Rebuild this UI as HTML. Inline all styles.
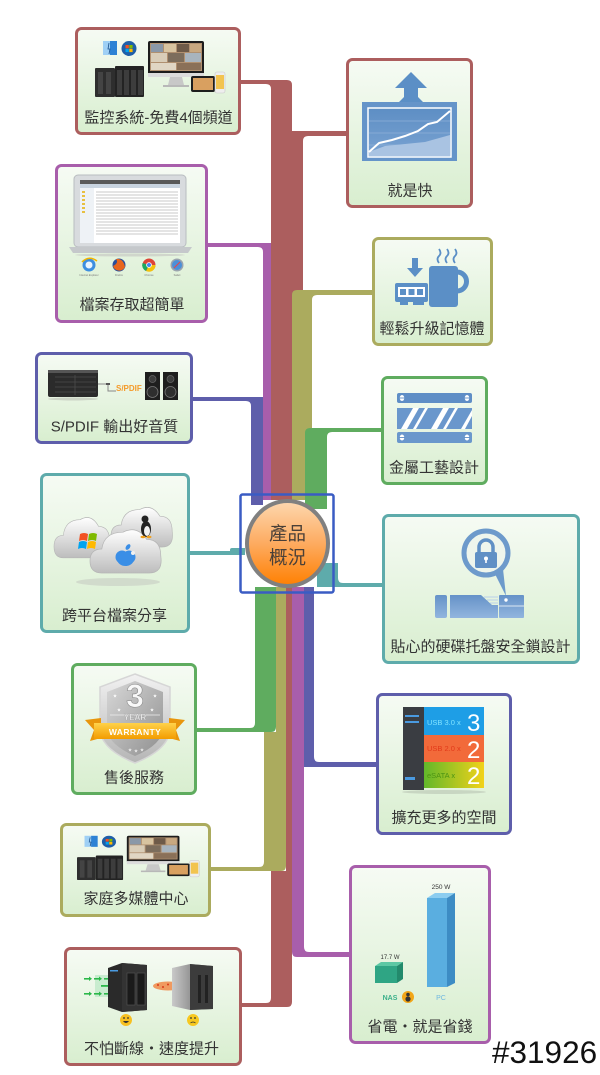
<!DOCTYPE html>
<html><head><meta charset="utf-8">
<style>
html,body{margin:0;padding:0;background:#fff;}
svg{display:block;}
text{font-family:"Liberation Sans","Noto Sans CJK TC",sans-serif;}
</style></head>
<body>
<svg width="600" height="1075" viewBox="0 0 600 1075" xmlns="http://www.w3.org/2000/svg">
<defs>
  <linearGradient id="bx" x1="0" y1="0" x2="0" y2="1">
    <stop offset="0" stop-color="#f6fbf4"/><stop offset="1" stop-color="#d8eecf"/>
  </linearGradient>
  <linearGradient id="orb" x1="0" y1="0" x2="0" y2="1">
    <stop offset="0" stop-color="#fdd8b0"/><stop offset="0.5" stop-color="#fdab60"/><stop offset="1" stop-color="#ff7f00"/>
  </linearGradient>
  <linearGradient id="bl" x1="0" y1="0" x2="0" y2="1">
    <stop offset="0" stop-color="#6592c8"/><stop offset="1" stop-color="#92b5de"/>
  </linearGradient>
  <linearGradient id="chart" x1="0" y1="0" x2="0" y2="1">
    <stop offset="0" stop-color="#5d8ec4"/><stop offset="1" stop-color="#7aa3d2"/>
  </linearGradient>
  <linearGradient id="cloud" x1="0" y1="0" x2="0" y2="1">
    <stop offset="0" stop-color="#ffffff"/><stop offset="1" stop-color="#bdbdbd"/>
  </linearGradient>
  <linearGradient id="silver" x1="0" y1="0" x2="0" y2="1">
    <stop offset="0" stop-color="#f2f2f2"/><stop offset="1" stop-color="#b5b5b5"/>
  </linearGradient>
  <linearGradient id="silver2" x1="0" y1="0" x2="1" y2="1">
    <stop offset="0" stop-color="#d8d8d8"/><stop offset="1" stop-color="#8f8f8f"/>
  </linearGradient>
  <linearGradient id="ribbon" x1="0" y1="0" x2="0" y2="1">
    <stop offset="0" stop-color="#ffd24a"/><stop offset="1" stop-color="#f39c00"/>
  </linearGradient>
  <linearGradient id="sata" x1="0" y1="0" x2="1" y2="0">
    <stop offset="0" stop-color="#62b82a"/><stop offset="1" stop-color="#f2d21a"/>
  </linearGradient>
  <linearGradient id="pc" x1="0" y1="0" x2="1" y2="0">
    <stop offset="0" stop-color="#c9c9c9"/><stop offset="1" stop-color="#555"/>
  </linearGradient>
  <g id="media">
    <rect x="8" y="1" width="7" height="14" fill="#9fd0f5"/>
    <rect x="15" y="1" width="7" height="14" fill="#2d82d5"/>
    <path d="M14,3 L13,9 L15,9 L14,14" stroke="#1a4f8a" stroke-width="0.8" fill="none"/>
    <circle cx="34" cy="8.5" r="7.5" fill="#1f5fa8"/>
    <rect x="30.5" y="5" width="3.3" height="3.3" fill="#f25022"/>
    <rect x="34.3" y="5" width="3.3" height="3.3" fill="#7fba00"/>
    <rect x="30.5" y="8.8" width="3.3" height="3.3" fill="#00a4ef"/>
    <rect x="34.3" y="8.8" width="3.3" height="3.3" fill="#ffb900"/>
    <rect x="53" y="1" width="56" height="34" rx="2" fill="#1c1c1c"/>
    <rect x="55" y="3" width="52" height="28" fill="#b09070"/>
    <rect x="56" y="4" width="12" height="8" fill="#8a98a8"/>
    <rect x="69" y="4" width="12" height="8" fill="#d8c4a0"/>
    <rect x="82" y="4" width="12" height="8" fill="#6e5a48"/>
    <rect x="95" y="4" width="11" height="8" fill="#c8a880"/>
    <rect x="56" y="13" width="16" height="9" fill="#d9cdb8"/>
    <rect x="73" y="13" width="16" height="9" fill="#7c6d5c"/>
    <rect x="90" y="13" width="16" height="9" fill="#a8b4be"/>
    <rect x="56" y="23" width="25" height="7" fill="#e0d6c4"/>
    <rect x="82" y="23" width="24" height="7" fill="#8a7058"/>
    <rect x="53" y="33" width="56" height="4" fill="#dcdcdc"/>
    <polygon points="75,37 87,37 89,45 73,45" fill="#c8c8c8"/>
    <rect x="68" y="45" width="26" height="2" fill="#b8b8b8"/>
    <rect x="0" y="28" width="20" height="29" rx="1" fill="#2e2e2e"/>
    <rect x="3" y="32" width="5" height="22" fill="#444"/>
    <rect x="11" y="32" width="5" height="22" fill="#444"/>
    <rect x="20" y="26" width="29" height="31" rx="1" fill="#232323"/>
    <rect x="22" y="30" width="5" height="25" fill="#3d3d3d"/>
    <rect x="29" y="30" width="5" height="25" fill="#3d3d3d"/>
    <rect x="36" y="30" width="5" height="25" fill="#3d3d3d"/>
    <rect x="43" y="30" width="5" height="25" fill="#3d3d3d"/>
    <rect x="96" y="36" width="24" height="16" rx="2" fill="#1e1e1e"/>
    <rect x="98" y="38" width="20" height="12" fill="#d9a060"/>
    <rect x="120" y="32" width="10" height="21" rx="2" fill="#eee" stroke="#c8c8c8" stroke-width="0.6"/>
    <rect x="121" y="35" width="8" height="14" fill="#f2c450"/>
  </g>
  <path id="cl" d="M10,40 Q0,40 0,30 Q0,20 10,20 Q12,6 28,6 Q40,0 48,12 Q60,12 60,26 Q62,40 50,40 Z"/>
</defs>

<!-- ===== connectors (upper) ===== -->
<path d="M207,243 H271 V500 H263 V252 Q263,247 258,247 H207 Z" fill="#a85eab"/>
<path d="M240,80 H287 Q292,80 292,85 V131 H347 V136 H308 Q303,136 303,141 V500 H271 V89 Q271,84 266,84 H240 Z" fill="#ac5e5e"/>
<path d="M297,290 H373 V295 H317 Q312,295 312,300 V500 H292 V295 Q292,290 297,290 Z" fill="#abab5e"/>
<path d="M310,428 H382 V432 H332 Q327,432 327,437 V509 H305 V433 Q305,428 310,428 Z" fill="#5fac5f"/>
<path d="M192,397 H263 V505 H251 V406 Q251,401 246,401 H192 Z" fill="#5e5eab"/>
<!-- teal -->
<rect x="189" y="551" width="56" height="4" fill="#5eabab"/>
<path d="M230,555 V550 Q230,548 232,548 H245 V555 Z" fill="#5eabab"/>
<path d="M317,563 H338 V578 Q338,583 343,583 H383 V587 H317 Z" fill="#5eabab"/>
<!-- ===== connectors (lower) ===== -->
<path d="M255,587 H276 V727 Q276,732 271,732 H196 V728 H250 Q255,728 255,723 Z" fill="#5fac5f"/>
<path d="M276,587 H286 V866 Q286,871 281,871 H210 V867 H259 Q264,867 264,862 V732 H276 Z" fill="#abab5e"/>
<path d="M286,587 H292 V1002 Q292,1007 287,1007 H241 V1003 H266 Q271,1003 271,998 V871 H286 Z" fill="#ac5e5e"/>
<path d="M292,587 H304 V947 Q304,952 309,952 H350 V957 H297 Q292,957 292,952 Z" fill="#a85eab"/>
<path d="M304,587 H314 V757 Q314,762 319,762 H377 V767 H304 Z" fill="#5e5eab"/>

<!-- ===== center node ===== -->
<rect x="240.5" y="494.5" width="93" height="98" rx="2" fill="none" stroke="#3a5cc4" stroke-width="2.5"/>
<ellipse cx="287.5" cy="543.5" rx="40.5" ry="42.5" fill="url(#orb)" stroke="#808080" stroke-width="4"/>
<text x="287.5" y="540" font-size="18.5" fill="#4a4038" text-anchor="middle">產品</text>
<text x="287.5" y="564" font-size="18.5" fill="#4a4038" text-anchor="middle">概況</text>

<!-- ===== boxes ===== -->
<g stroke-width="3" fill="url(#bx)">
  <rect x="76.5" y="28.5" width="163" height="105" rx="5" stroke="#ac5e5e"/>
  <rect x="347.5" y="59.5" width="124" height="147" rx="5" stroke="#ac5e5e"/>
  <rect x="56.5" y="165.5" width="150" height="156" rx="5" stroke="#a85eab"/>
  <rect x="373.5" y="238.5" width="118" height="106" rx="5" stroke="#abab5e"/>
  <rect x="36.5" y="353.5" width="155" height="89" rx="5" stroke="#5e5eab"/>
  <rect x="382.5" y="377.5" width="104" height="106" rx="5" stroke="#5fac5f"/>
  <rect x="41.5" y="474.5" width="147" height="157" rx="5" stroke="#5eabab"/>
  <rect x="383.5" y="515.5" width="195" height="147" rx="5" stroke="#5eabab"/>
  <rect x="72.5" y="664.5" width="123" height="129" rx="5" stroke="#5fac5f"/>
  <rect x="377.5" y="694.5" width="133" height="139" rx="5" stroke="#5e5eab"/>
  <rect x="61.5" y="824.5" width="148" height="91" rx="5" stroke="#abab5e"/>
  <rect x="350.5" y="866.5" width="139" height="176" rx="5" stroke="#a85eab"/>
  <rect x="65.5" y="948.5" width="175" height="116" rx="5" stroke="#ac5e5e"/>
</g>

<!-- ===== labels ===== -->
<g font-size="15" fill="#333" text-anchor="middle">
  <text x="158.5" y="122.5">監控系統-免費4個頻道</text>
  <text x="410" y="195.5">就是快</text>
  <text x="132" y="309.5">檔案存取超簡單</text>
  <text x="432" y="333.5">輕鬆升級記憶體</text>
  <text x="114.5" y="431.5">S/PDIF 輸出好音質</text>
  <text x="434" y="472.5">金屬工藝設計</text>
  <text x="114.5" y="620.5">跨平台檔案分享</text>
  <text x="480.5" y="651.5">貼心的硬碟托盤安全鎖設計</text>
  <text x="134" y="782.5">售後服務</text>
  <text x="444" y="822.5">擴充更多的空間</text>
  <text x="136" y="903.5">家庭多媒體中心</text>
  <text x="420" y="1031.5">省電・就是省錢</text>
  <text x="151.5" y="1053.5">不怕斷線・速度提升</text>
</g>
<text x="492" y="1063" font-size="31.5" fill="#111">#31926</text>

<!-- ===== icon 1 & 11: media ===== -->
<use href="#media" transform="translate(95,40)"/>
<use href="#media" transform="translate(77,835) scale(0.94,0.79)"/>

<!-- ===== icon 2: fast chart ===== -->
<polygon points="411,72 427,88 418,88 418,97 424,103 398,103 404,97 404,88 395,88" fill="#5b8fc6"/>
<rect x="362" y="102" width="95" height="59" fill="#6594c9"/>
<rect x="368" y="108" width="83" height="49" fill="url(#chart)" stroke="#fff" stroke-width="1.5"/>
<line x1="369" y1="121" x2="450" y2="121" stroke="#8fb0d8" stroke-width="0.8"/>
<line x1="369" y1="133" x2="450" y2="133" stroke="#8fb0d8" stroke-width="0.8"/>
<line x1="369" y1="145" x2="450" y2="145" stroke="#8fb0d8" stroke-width="0.8"/>
<polygon points="369,152 385,146 405,144 425,142 450,135 450,156 369,156" fill="#a9c3e2"/>
<polyline points="369,152 379,143 392,140 405,136 418,131 428,124 437,122 450,111" fill="none" stroke="#fff" stroke-width="2"/>

<!-- ===== icon 3: laptop + browsers ===== -->
<rect x="74" y="175" width="112" height="72" rx="4" fill="#d8dbde" stroke="#b8bcc0" stroke-width="1"/>
<rect x="80" y="180" width="100" height="63" fill="#fff"/>
<rect x="80" y="180" width="100" height="4" fill="#5a5a5a"/>
<rect x="80" y="184" width="100" height="4" fill="#c9d4e0"/>
<rect x="80" y="188" width="14" height="55" fill="#eef2f6"/>
<g fill="#e8c040"><rect x="82" y="191" width="3" height="2"/><rect x="82" y="195" width="3" height="2"/><rect x="82" y="199" width="3" height="2"/><rect x="82" y="203" width="3" height="2"/><rect x="82" y="207" width="3" height="2"/><rect x="82" y="211" width="3" height="2"/></g>
<g stroke="#b8b8b8" stroke-width="0.8">
  <line x1="96" y1="192" x2="178" y2="192"/><line x1="96" y1="195" x2="178" y2="195"/><line x1="96" y1="198" x2="178" y2="198"/>
  <line x1="96" y1="201" x2="178" y2="201"/><line x1="96" y1="204" x2="178" y2="204"/><line x1="96" y1="207" x2="178" y2="207"/>
  <line x1="96" y1="210" x2="178" y2="210"/><line x1="96" y1="213" x2="178" y2="213"/><line x1="96" y1="216" x2="178" y2="216"/>
  <line x1="96" y1="219" x2="178" y2="219"/><line x1="96" y1="222" x2="178" y2="222"/><line x1="96" y1="225" x2="178" y2="225"/>
  <line x1="96" y1="228" x2="178" y2="228"/><line x1="96" y1="231" x2="178" y2="231"/><line x1="96" y1="234" x2="178" y2="234"/>
</g>
<polygon points="69,247 192,247 188,253 73,253" fill="#c5c8cb"/>
<ellipse cx="130" cy="255" rx="55" ry="1.5" fill="#d0d6cc"/>
<circle cx="89" cy="265" r="6.5" fill="#3d8ee0"/>
<circle cx="89" cy="265" r="3.5" fill="#eaf4ff"/>
<path d="M82,262 Q89,255 97,261" stroke="#f2b400" stroke-width="1.5" fill="none"/>
<circle cx="119" cy="265" r="6.5" fill="#2a4f9a"/>
<path d="M113,266 A6.5,6.5 0 0 0 125,267 Q123,258 116,259 Q119,263 113,266 Z" fill="#e8661c"/>
<circle cx="149" cy="265" r="6.5" fill="#dd4438"/>
<path d="M149,265 L155.5,265 A6.5,6.5 0 0 1 146,271 Z" fill="#f4c20d"/>
<path d="M149,265 L146,271 A6.5,6.5 0 0 1 142.5,263 Z" fill="#1da760"/>
<circle cx="149" cy="265" r="2.8" fill="#fff"/><circle cx="149" cy="265" r="2" fill="#4285f4"/>
<circle cx="177" cy="265" r="6.5" fill="#9aa4ae"/>
<circle cx="177" cy="265" r="5" fill="#4a90d9"/>
<line x1="174" y1="268" x2="180" y2="262" stroke="#e44" stroke-width="1"/>
<g font-size="2.6" fill="#777" text-anchor="middle">
  <text x="89" y="276">Internet Explorer</text><text x="119" y="276">Firefox</text><text x="149" y="276">Chrome</text><text x="177" y="276">Safari</text>
</g>

<!-- ===== icon 4: RAM + mug ===== -->
<g fill="#5b8fc6">
  <rect x="412" y="258" width="6" height="11"/>
  <polygon points="407,268 423,268 415,277"/>
  <rect x="395" y="283" width="33" height="19" rx="2"/>
  <rect x="400" y="301" width="8" height="4"/><rect x="413" y="301" width="11" height="4"/>
  <rect x="429" y="266" width="29" height="41" rx="3"/>
</g>
<rect x="398" y="287" width="27" height="10" fill="#fff"/>
<g fill="#5b8fc6"><rect x="400" y="289" width="6" height="6"/><rect x="408.5" y="289" width="6" height="6"/><rect x="417" y="289" width="6" height="6"/></g>
<path d="M457,272 A9,9 0 0 1 457,291" stroke="#5b8fc6" stroke-width="5" fill="none"/>
<g stroke="#5b8fc6" stroke-width="1.8" fill="none">
  <path d="M439,263 Q436,259 439,256 Q442,253 439,249"/>
  <path d="M447,263 Q444,259 447,256 Q450,253 447,249"/>
  <path d="M455,263 Q452,259 455,256 Q458,253 455,249"/>
</g>

<!-- ===== icon 5: S/PDIF ===== -->
<rect x="48" y="370" width="50" height="27" rx="2" fill="#2b2b2b"/>
<rect x="48" y="370" width="50" height="3" fill="#555"/>
<g stroke="#4c4c4c" stroke-width="0.8">
  <line x1="55" y1="377" x2="96" y2="377"/><line x1="55" y1="382" x2="96" y2="382"/><line x1="55" y1="387" x2="96" y2="387"/><line x1="55" y1="392" x2="96" y2="392"/>
  <line x1="75" y1="375" x2="75" y2="395"/>
</g>
<ellipse cx="73" cy="399" rx="25" ry="1.5" fill="#ccd4c6"/>
<polyline points="98,384 108,384 108,391 116,391" fill="none" stroke="#888" stroke-width="1"/>
<rect x="106" y="383" width="4" height="2" fill="#555"/>
<text x="116" y="391" font-size="8" font-weight="bold" fill="#f59b2a">S/PDIF</text>
<rect x="145" y="372" width="15" height="28" fill="#1e1e1e"/>
<rect x="163" y="372" width="15" height="28" fill="#1e1e1e"/>
<circle cx="152.5" cy="379" r="3.5" fill="#3c3c3c" stroke="#666" stroke-width="0.7"/>
<circle cx="152.5" cy="392" r="5.5" fill="#2e2e2e" stroke="#777" stroke-width="0.8"/>
<circle cx="170.5" cy="379" r="3.5" fill="#3c3c3c" stroke="#666" stroke-width="0.7"/>
<circle cx="170.5" cy="392" r="5.5" fill="#2e2e2e" stroke="#777" stroke-width="0.8"/>

<!-- ===== icon 6: metal ===== -->
<rect x="397" y="393" width="75" height="10" rx="2" fill="#5f8ec6"/>
<rect x="397" y="408" width="75" height="21" fill="#6a97cc"/>
<rect x="397" y="432" width="75" height="11" rx="2" fill="#6a97cc"/>
<g fill="#fff">
  <polygon points="401,429 413,408 419,408 407,429"/>
  <polygon points="413,429 425,408 428,408 416,429"/>
  <polygon points="431,429 443,408 449,408 437,429"/>
  <polygon points="443,429 455,408 458,408 446,429"/>
  <polygon points="461,429 472,410 472,416 465,429"/>
  <ellipse cx="402" cy="398" rx="2.3" ry="3"/><ellipse cx="467" cy="398" rx="2.3" ry="3"/>
  <ellipse cx="402" cy="437.5" rx="2.3" ry="3"/><ellipse cx="467" cy="437.5" rx="2.3" ry="3"/>
</g>
<g stroke="#5f8ec6" stroke-width="0.9">
  <line x1="399" y1="398" x2="405" y2="398"/><line x1="464" y1="398" x2="470" y2="398"/>
  <line x1="399" y1="437.5" x2="405" y2="437.5"/><line x1="464" y1="437.5" x2="470" y2="437.5"/>
</g>

<!-- ===== icon 7: clouds ===== -->
<ellipse cx="118" cy="582" rx="42" ry="4" fill="#cdd5c8" opacity="0.8"/>
<use href="#cl" transform="translate(54,513) scale(0.93,1.12)" fill="url(#cloud)" stroke="#b5b5b5" stroke-width="0.6"/>
<use href="#cl" transform="translate(111,503) scale(1.02,1.1)" fill="url(#cloud)" stroke="#b5b5b5" stroke-width="0.6"/>
<use href="#cl" transform="translate(90,525) scale(1.18,1.2)" fill="url(#cloud)" stroke="#b5b5b5" stroke-width="0.6"/>
<g>
  <path d="M80,534 Q84,532 88,534 L87,541 Q83,539 79,541 Z" fill="#f25022"/>
  <path d="M89,534 Q93,532 97,534 L96,541 Q92,539 88,541 Z" fill="#7fba00"/>
  <path d="M79,542 Q83,540 87,542 L86,549 Q82,547 78,549 Z" fill="#00a4ef"/>
  <path d="M88,542 Q92,540 96,542 L95,549 Q91,547 87,549 Z" fill="#ffb900"/>
</g>
<ellipse cx="146" cy="529" rx="5" ry="8" fill="#222"/>
<ellipse cx="147" cy="531" rx="3" ry="5" fill="#f2f2f2"/>
<circle cx="145" cy="519" r="3.5" fill="#222"/>
<ellipse cx="143" cy="537" rx="2.5" ry="1.2" fill="#f0a020"/><ellipse cx="149" cy="537" rx="2.5" ry="1.2" fill="#f0a020"/>
<circle cx="122" cy="557" r="6.5" fill="#3a8ee6"/><circle cx="129" cy="557" r="6.5" fill="#3a8ee6"/>
<ellipse cx="125.5" cy="560" rx="8" ry="6" fill="#3a8ee6"/>
<ellipse cx="128" cy="547" rx="2" ry="3.2" fill="#3a8ee6" transform="rotate(35 128 547)"/>
<circle cx="133" cy="553" r="2" fill="#f0f0f0"/>

<!-- ===== icon 8: lock ===== -->
<polygon points="494,572 503,569 506,596" fill="#6d9acb"/>
<circle cx="486" cy="553" r="22" fill="#eef5ec" stroke="#6d9acb" stroke-width="5"/>
<path d="M479,553 V547 A7,7 0 0 1 493,547 V553" fill="none" stroke="#6090c5" stroke-width="3.5"/>
<rect x="475" y="552" width="22" height="16" rx="2" fill="#6090c5"/>
<circle cx="486" cy="558.5" r="2" fill="#fff"/><rect x="485.2" y="559" width="1.6" height="4" fill="#fff"/>
<rect x="435" y="595" width="12" height="23" rx="2" fill="url(#bl)"/>
<path d="M450,595 H481 L492,605 H498 V618 H450 Z" fill="url(#bl)"/>
<rect x="499" y="595" width="25" height="23" rx="1" fill="url(#bl)"/>
<line x1="499" y1="606" x2="524" y2="606" stroke="#dbe7f3" stroke-width="1"/>
<circle cx="506" cy="600" r="1.7" fill="#fff"/>
<g stroke="#b9d0ea" stroke-width="1"><line x1="484" y1="597" x2="498" y2="597"/><line x1="487" y1="600" x2="498" y2="600"/><line x1="490" y1="603" x2="498" y2="603"/></g>

<!-- ===== icon 9: warranty ===== -->
<path d="M135,674 L170,687 V728 Q170,749 135,763 Q100,749 100,728 V687 Z" fill="url(#silver)" stroke="#d6d6d6" stroke-width="1.5"/>
<path d="M135,681 L163,692 V728 Q163,744 135,756 Q107,744 107,728 V692 Z" fill="url(#silver2)"/>
<text x="135" y="707" font-size="32" font-weight="bold" fill="#f8f8f8" stroke="#8a8a8a" stroke-width="0.6" text-anchor="middle">3</text>
<g fill="#fff" font-size="4"><text x="113" y="697">★</text><text x="153" y="697">★</text><text x="117" y="711">★</text><text x="150" y="711">★</text></g>
<line x1="110" y1="715" x2="160" y2="715" stroke="#eee" stroke-width="0.8"/>
<text x="135" y="720" font-size="8" font-weight="bold" fill="#f2f2f2" stroke="#999" stroke-width="0.3" text-anchor="middle">YEAR</text>
<polygon points="85,720 101,718 101,738 90,741 94,730" fill="#e8960c"/>
<polygon points="185,720 169,718 169,738 180,741 176,730" fill="#e8960c"/>
<rect x="94" y="723" width="82" height="16" fill="url(#ribbon)"/>
<text x="135" y="735" font-size="8.5" font-weight="bold" fill="#fff" text-anchor="middle" letter-spacing="0.4">WARRANTY</text>
<g fill="#eee" font-size="4"><text x="128" y="751">★</text><text x="134" y="752">★</text><text x="140" y="751">★</text></g>

<!-- ===== icon 10: expansion NAS ===== -->
<ellipse cx="444" cy="792" rx="42" ry="2" fill="#c8d6c2"/>
<rect x="403" y="707" width="21" height="83" fill="#3a3d42"/>
<rect x="405" y="715" width="14" height="2" fill="#4a9ae0"/>
<rect x="405" y="721" width="14" height="2" fill="#4a9ae0"/>
<rect x="405" y="777" width="10" height="3" fill="#4a9ae0"/>
<rect x="424" y="707" width="60" height="28" fill="#1e9ee6"/>
<rect x="424" y="735" width="60" height="27" fill="#f26a3a"/>
<rect x="424" y="762" width="60" height="26" fill="url(#sata)"/>
<text x="427" y="725" font-size="7.5" fill="#7fe2ff">USB 3.0 x</text>
<text x="467" y="731" font-size="24" fill="#fff">3</text>
<text x="427" y="751" font-size="7.5" fill="#e23a1a">USB 2.0 x</text>
<text x="467" y="758" font-size="24" fill="#fff">2</text>
<text x="427" y="778" font-size="7.5" fill="#4c9414">eSATA x</text>
<text x="467" y="784" font-size="24" fill="#fff">2</text>

<!-- ===== icon 12: power chart ===== -->
<text x="441" y="889" font-size="6.5" fill="#333" text-anchor="middle">250 W</text>
<polygon points="427,898 435,893 455,893 447,898" fill="#8ccdf0"/>
<rect x="427" y="898" width="20" height="89" fill="#5aaee0"/>
<polygon points="447,898 455,893 455,983 447,987" fill="#3d8cc4"/>
<text x="390" y="959" font-size="6" fill="#333" text-anchor="middle">17.7 W</text>
<polygon points="375,966 381,962 403,962 397,966" fill="#5cc8a4"/>
<rect x="375" y="966" width="22" height="17" fill="#2fa584"/>
<polygon points="397,966 403,962 403,979 397,983" fill="#238a6c"/>
<text x="390" y="1000" font-size="7" font-weight="bold" fill="#3ab08a" text-anchor="middle">NAS</text>
<circle cx="408" cy="997" r="6" fill="#f2a618"/>
<circle cx="408" cy="994.5" r="1.8" fill="#333"/><ellipse cx="408" cy="999" rx="2.6" ry="2.6" fill="#333"/>
<text x="441" y="1000" font-size="7" fill="#6fb8e0" text-anchor="middle">PC</text>

<!-- ===== icon 13: NAS vs PC ===== -->
<rect x="95" y="975" width="27" height="22" fill="#bfe8c8" opacity="0.8"/>
<g fill="#2cb84a">
  <rect x="84" y="978" width="5" height="1.6"/><polygon points="89,976.5 92,978.8 89,981"/>
  <rect x="94" y="978" width="5" height="1.6"/><polygon points="99,976.5 102,978.8 99,981"/>
  <rect x="104" y="978" width="5" height="1.6"/><polygon points="109,976.5 112,978.8 109,981"/>
  <rect x="101" y="985" width="8" height="1.8"/><polygon points="109,983 113,985.9 109,989"/>
  <rect x="111" y="985" width="6" height="1.8"/><polygon points="117,983 121,985.9 117,989"/>
  <rect x="84" y="993" width="5" height="1.6"/><polygon points="89,991.5 92,993.8 89,996"/>
  <rect x="94" y="993" width="5" height="1.6"/><polygon points="99,991.5 102,993.8 99,996"/>
  <rect x="104" y="993" width="5" height="1.6"/><polygon points="109,991.5 112,993.8 109,996"/>
</g>
<polygon points="108,968 122,963 147,965 147,1010 122,1012 108,1007" fill="#2a2a2a"/>
<polygon points="122,963 147,965 147,1010 122,1012" fill="#333"/>
<rect x="127" y="973" width="8" height="32" fill="#1a1a1a" stroke="#555" stroke-width="0.6"/>
<rect x="137" y="973" width="8" height="32" fill="#1a1a1a" stroke="#555" stroke-width="0.6"/>
<rect x="110" y="970" width="8" height="1.5" fill="#4a9ae0"/>
<ellipse cx="168" cy="986" rx="15" ry="4.5" fill="#f08a48" opacity="0.85"/>
<g fill="#d83a1a"><circle cx="158" cy="985" r="1"/><circle cx="163" cy="987" r="1"/><circle cx="168" cy="984.5" r="1"/><circle cx="173" cy="987" r="1"/><circle cx="178" cy="985" r="1"/></g>
<polygon points="172,968 190,964 213,966 213,1009 190,1010 172,1006" fill="url(#pc)"/>
<polygon points="190,964 213,966 213,1009 190,1010" fill="#3c3c3c"/>
<rect x="198" y="975" width="3" height="28" fill="#222"/><rect x="205" y="975" width="3" height="28" fill="#222"/>
<circle cx="126" cy="1020" r="6" fill="#f7c020"/>
<circle cx="124" cy="1018" r="0.9" fill="#333"/><circle cx="128" cy="1018" r="0.9" fill="#333"/>
<path d="M123,1021 Q126,1025 129,1021 Z" fill="#333"/>
<circle cx="193" cy="1020" r="6" fill="#f7c820"/>
<circle cx="191" cy="1018" r="0.9" fill="#333"/><circle cx="195" cy="1018" r="0.9" fill="#333"/>
<path d="M190.5,1023 Q193,1021 195.5,1023" stroke="#333" stroke-width="0.8" fill="none"/>
</svg>
</body></html>
